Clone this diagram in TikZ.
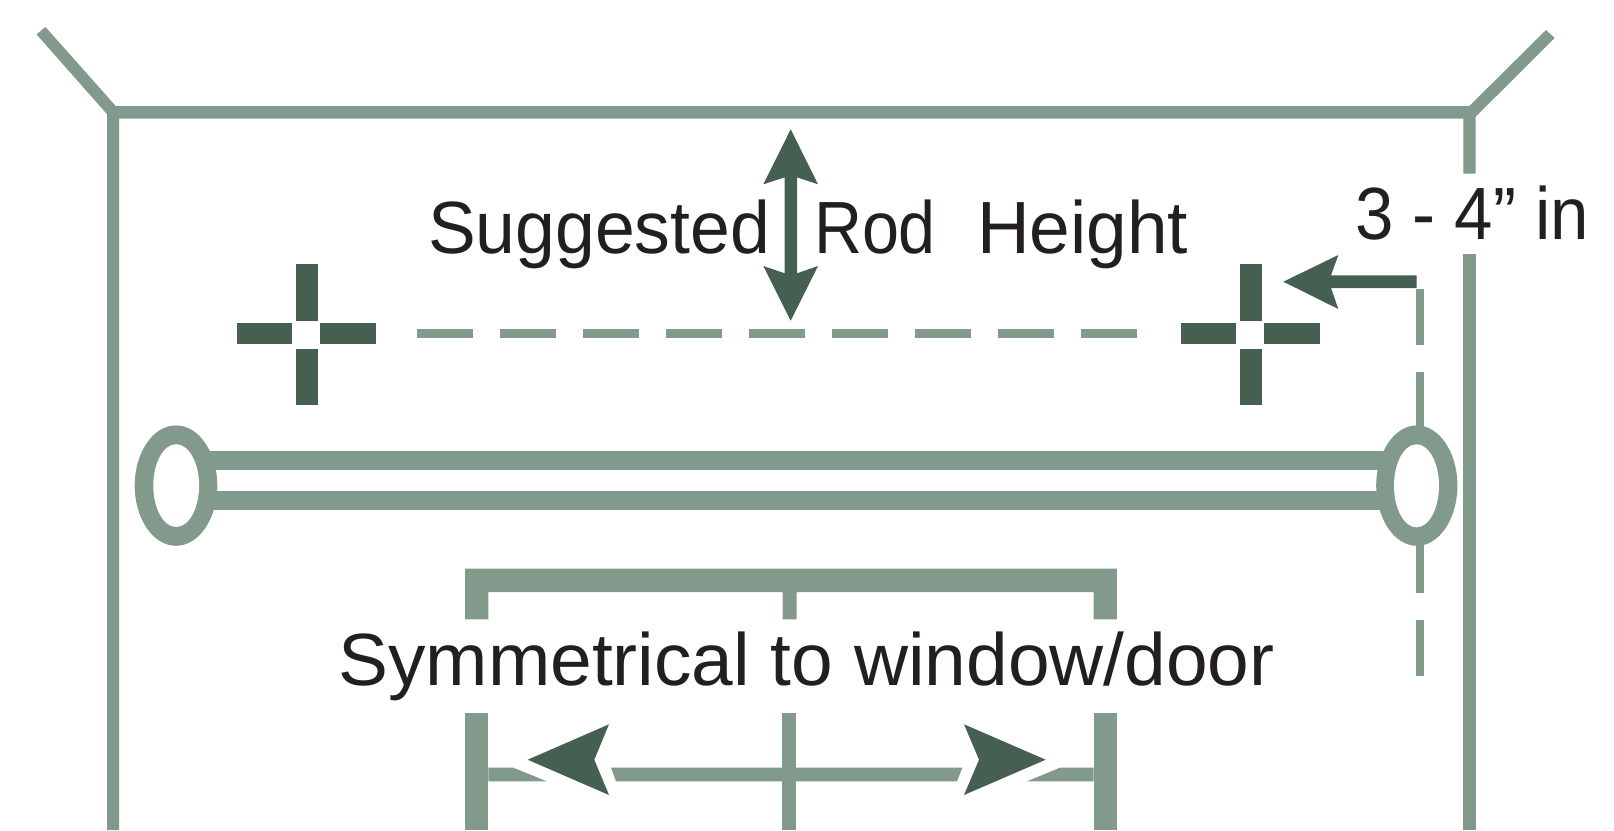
\documentclass[tikz,border=0pt]{standalone}
\usepackage{fontspec}
\usepackage{graphicx}
\setmainfont{Liberation Sans}
\definecolor{wallgreen}{HTML}{829A8C}
\definecolor{darkgreen}{HTML}{456050}
\definecolor{inktext}{HTML}{231F20}
\newcommand{\fitw}[2]{\resizebox{#1}{\height}{#2}}
\tikzset{
  lite/.style={fill=wallgreen,draw=none},
  dark/.style={fill=darkgreen,draw=none},
  label/.style={inner sep=0pt,outer sep=0pt,anchor=base west,text=inktext,font=\fontsize{74}{74}\selectfont},
  ringhole/.style={fill=white,draw=none}
}
\begin{document}
\begin{tikzpicture}[x=1pt,y=-1pt]
\useasboundingbox (0,0) rectangle (1614,830);
\fill[white] (0,0) rectangle (1614,830);
% room outline
\fill[lite] (107.1,830) -- (107.1,114.3) -- (36.5,34.3) -- (45.5,27) -- (115.7,106) -- (1469.3,106) -- (1546,30) -- (1554.7,38) -- (1475.7,116.7) -- (1475.7,173.7) -- (1463.3,173.7) -- (1463.3,118.7) -- (119.1,118.7) -- (119.1,830) -- cycle;
\fill[lite] (1463.3,254) rectangle (1475.7,830);
% dashed rod-height line
\foreach \k in {0,...,8} {\fill[lite] ({416.7+83*\k},329.4) rectangle ({472.7+83*\k},337.7);}
% vertical dashed line at the right bracket
\foreach \k in {0,...,4} {\fill[lite] (1416.3,{289+82.7*\k}) rectangle (1424.3,{345+82.7*\k});}
\fill[lite] (1416.3,500) rectangle (1424.3,560);
% crosses
\foreach \c in {306.9,1250.85} {
  \fill[dark] ({\c-10.7},264.3) rectangle ({\c+10.7},321);
  \fill[dark] ({\c-10.7},349) rectangle ({\c+10.7},405.3);
  \fill[dark] ({\c-69.9},322.8) rectangle ({\c-14.9},344);
  \fill[dark] ({\c+12.7},322.8) rectangle ({\c+69.4},344);
}
% rod
\fill[lite] (200,451) rectangle (1395,469.7);
\fill[lite] (200,491.4) rectangle (1395,510);
\fill[lite] (176,485.6) ellipse [x radius=41.3,y radius=60.2];
\fill[lite] (1416.8,485.6) ellipse [x radius=40.6,y radius=60.2];
\fill[ringhole] (176.2,485.6) ellipse [x radius=22.9,y radius=41.4];
\fill[ringhole] (1416.5,485.8) ellipse [x radius=22.5,y radius=41.5];
% 3-4 in arrow
\fill[dark] (1283.3,281.7) -- (1338.3,255) -- (1331,275.3) -- (1416.7,275.3) -- (1416.7,288) -- (1331,288) -- (1338.3,309) -- cycle;
% double arrow
\fill[dark] (790.7,129.3) -- (818,184.3) -- (797,177.3) -- (797,273.3) -- (818,266) -- (790.7,320.7) -- (763.3,266) -- (784.7,273.3) -- (784.7,177.3) -- (763.3,184.3) -- cycle;
% top bracket
\fill[lite] (465,568.6) -- (1116.8,568.6) -- (1116.8,619.3) -- (1093.6,619.3) -- (1093.6,592) -- (796.5,592) -- (796.5,619.3) -- (782.6,619.3) -- (782.6,592) -- (488.3,592) -- (488.3,619.3) -- (465,619.3) -- cycle;
% lower uprights
\fill[lite] (465,713) rectangle (488.3,830);
\fill[lite] (782.2,713) rectangle (796.1,830);
\fill[lite] (1093.5,713) rectangle (1116.8,830);
% horizontal measuring line
\fill[lite] (488.3,767.7) -- (513.3,767.7) -- (546.7,781.3) -- (488.3,781.3) -- cycle;
\fill[lite] (611,767.7) -- (962.3,767.7) -- (957,781.3) -- (616,781.3) -- cycle;
\fill[lite] (1060,767.7) -- (1093.5,767.7) -- (1093.5,781.3) -- (1027,781.3) -- cycle;
% horizontal arrowheads
\fill[dark] (527.7,759.7) -- (609,724.3) -- (594.3,759.7) -- (609,795) -- cycle;
\fill[dark] (1045.7,759.7) -- (964,724.3) -- (979,759.7) -- (964,795) -- cycle;
% texts
\node[label] (rodheight) at (428,253.3) {\fitw{342pt}{Suggested}\hspace{44pt}\fitw{122pt}{Rod}\hspace{41pt}\fitw{211pt}{Height}};
\node[label] (gap) at (1355,239) {\fitw{234pt}{3 - 4” in}};
\node[label] (symm) at (338.5,685) {\fitw{936pt}{Symmetrical to window/door}};
\end{tikzpicture}
\end{document}
